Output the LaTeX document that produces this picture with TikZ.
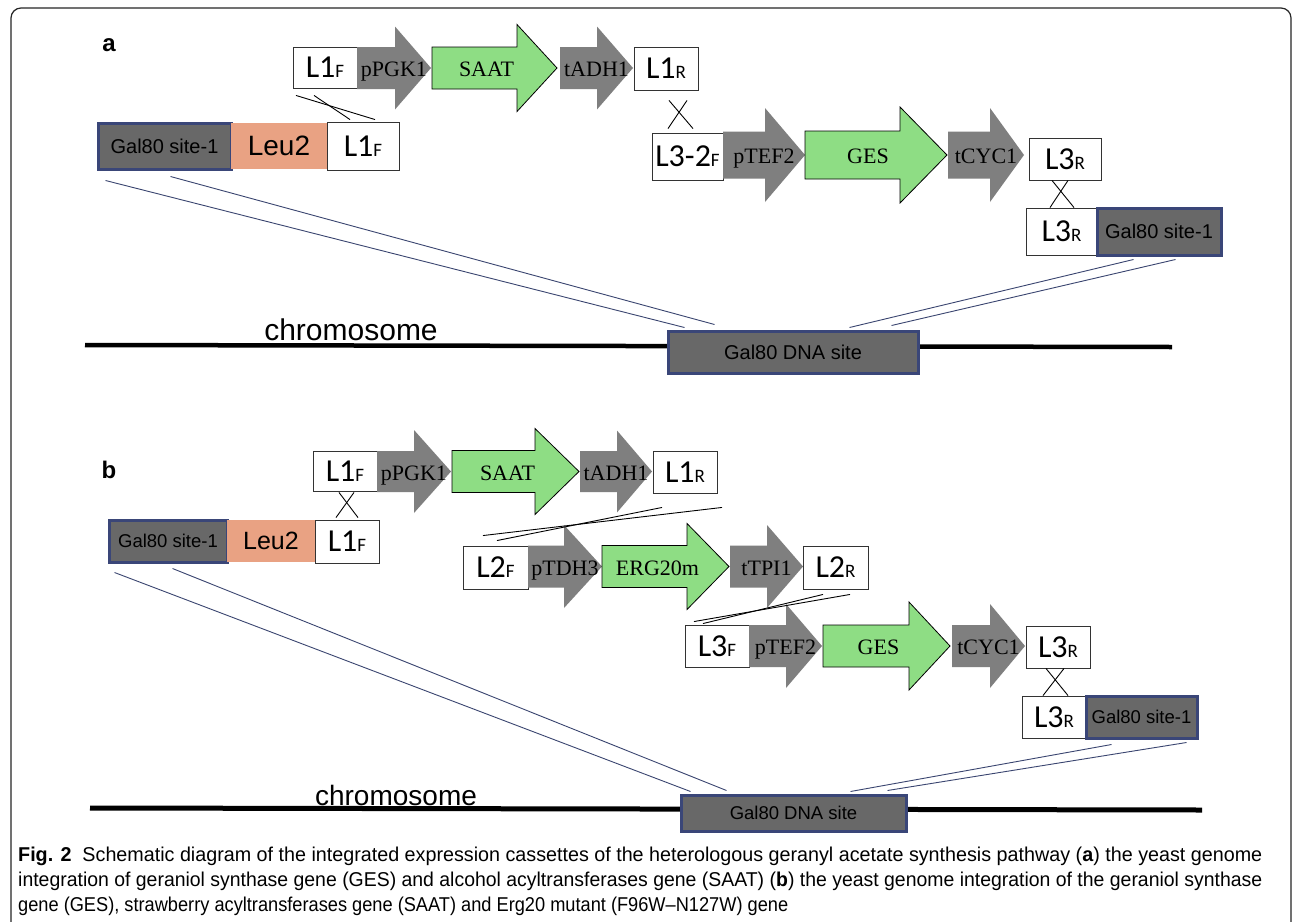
\documentclass[tikz,border=0pt]{standalone}
\usepackage{fontspec}
\usepackage{graphicx}
\setmainfont{Liberation Serif}
\setsansfont{Liberation Sans}
\newfontfamily\calib{Carlito}
\usetikzlibrary{calc}
\definecolor{arrgrey}{HTML}{7F7F7F}
\definecolor{genegreen}{HTML}{8EDD84}
\definecolor{galgrey}{HTML}{686868}
\definecolor{navyc}{HTML}{3A4678}
\definecolor{navyl}{HTML}{3A4570}
\definecolor{leuc}{HTML}{E9A283}
\newcommand\sz[1]{\fontsize{#1}{#1}\selectfont}
\newcommand\Lsub[1]{{\sz{19}#1}}
\newcommand\genearrow[9]{%
  \path[#2] (#3,#6-#7) -- (#4,#6-#7) -- (#4,#6-#8) -- (#5,#6) -- (#4,#6+#8) -- (#4,#6+#7) -- (#3,#6+#7) -- cycle;
  \node[arrlabel,#2lab] (#1) at ({(#3+#5)/2},#6+8.5) {#9};}
\tikzset{
  lbox/.style={draw=black!80, line width=0.9pt, fill=white, inner sep=0pt, font=\calib\sz{32}},
  galbox/.style={draw=navyc, line width=3pt, fill=galgrey, inner sep=0pt, font=\sffamily\sz{20}},
  leubox/.style={fill=leuc, inner sep=0pt, font=\sffamily\sz{28}},
  greyarr/.style={fill=arrgrey},
  greenarr/.style={fill=genegreen, draw=black, line width=0.8pt},
  arrlabel/.style={font=\sz{22}, inner sep=0pt, anchor=base},
  greyarrlab/.style={},
  greenarrlab/.style={xshift=-8pt},
  navyline/.style={draw=navyl, line width=0.9pt},
  xline/.style={draw=black, line width=0.9pt},
  chromline/.style={draw=black, line width=4.5pt},
  panellab/.style={font=\sffamily\bfseries\sz{24}, inner sep=0pt},
  chromlab/.style={font=\sffamily\sz{30}, inner sep=0pt},
  caption/.style={anchor=base west, inner sep=0pt, font=\sffamily\sz{20}}
}
\begin{document}
\begin{tikzpicture}[x=1pt,y=-1pt]
\useasboundingbox (0,0) rectangle (1293,921);
\clip (0,0) rectangle (1293,921);
\fill[white] (0,0) rectangle (1293,921);
\draw[line width=1.2pt, black!85, rounded corners=10pt] (11,960) -- (11,8) -- (1291,8) -- (1291,960);

% ================= panel a =================
\node[panellab] (pa) at (109,45) {a};
% row 1
\node[lbox, minimum width=64, minimum height=41] (L1Fa) at (325,67.5) {L1\Lsub{F}};
\genearrow{pPGKa}{greyarr}{357}{395}{431}{68}{21}{41.5}{pPGK1}
\genearrow{SAATa}{greenarr}{432}{517}{557}{68}{21}{43.5}{SAAT}
\genearrow{tADHa}{greyarr}{560}{597}{633}{68}{21}{41.5}{tADH1}
\node[lbox, minimum width=64, minimum height=43] (L1Ra) at (666,68.5) {L1\Lsub{R}};
% row 2
\node[galbox, minimum width=133, minimum height=46] (Gal80a1) at (164.5,146) {Gal80 site-1};
\node[leubox, minimum width=96, minimum height=46] (Leu2a) at (279,146) {Leu2};
\node[lbox, minimum width=72, minimum height=48] (L1Fa2) at (363,146) {L1\Lsub{F}};
% row 3
\node[lbox, minimum width=71, minimum height=47] (L32F) at (687.5,156.5) {L3-2\Lsub{F}};
\genearrow{pTEFa}{greyarr}{723}{765}{805}{155}{23.5}{47}{pTEF2}
\genearrow{GESa}{greenarr}{805}{900}{947}{155}{24}{48}{GES}
\genearrow{tCYCa}{greyarr}{948}{990}{1024}{155}{23.5}{47}{tCYC1}
\node[lbox, minimum width=72, minimum height=42] (L3Ra1) at (1065,159) {L3\Lsub{R}};
\node[lbox, minimum width=71, minimum height=47] (L3Ra2) at (1061.5,231.5) {L3\Lsub{R}};
\node[galbox, minimum width=124, minimum height=47] (Gal80a2) at (1159,231.5) {Gal80 site-1};
% crossings
\draw[xline] ($(L1Fa.south)+(-29,7)$) -- ($(L1Fa2.north)+(12,-2)$);
\draw[xline] ($(L1Fa.south)+(-11,7)$) -- ($(L1Fa2.north)+(-13,-2)$);
\draw[xline] ($(L1Ra.south)+(3,10)$) -- ($(L32F.north)+(5.5,-4)$);
\draw[xline] ($(L1Ra.south)+(21,10)$) -- ($(L32F.north)+(-19.5,-4)$);
\draw[xline] ($(L3Ra1.south)+(-13,0)$) -- ($(L3Ra2.north)+(12.5,0)$);
\draw[xline] ($(L3Ra1.south)+(3,0)$) -- ($(L3Ra2.north)+(-11.5,0)$);
% chromosome
\coordinate (chrA1) at (85,345);
\coordinate (chrA2) at (1172,347);
\draw[chromline] (chrA1) -- (chrA2);
\node[chromlab] (chromA) at (351,330) {chromosome};
\node[galbox, minimum width=250, minimum height=42] (DNAa) at (793,352) {Gal80 DNA site};
\draw[navyline] ($(Gal80a1.south west)+(9,10)$) -- ($(DNAa.north west)+(18,-2)$);
\draw[navyline] ($(Gal80a1.south west)+(74,6)$) -- ($(DNAa.north west)+(48,-5)$);
\draw[navyline] ($(Gal80a2.south east)+(-89,3)$) -- ($(DNAa.north west)+(183,-2)$);
\draw[navyline] ($(Gal80a2.south east)+(-47,3)$) -- ($(DNAa.north west)+(225,-4)$);

% ================= panel b =================
\node[panellab] (pb) at (109,470) {b};
% row 1
\node[lbox, minimum width=64, minimum height=40] (L1Fb) at (345,471) {L1\Lsub{F}};
\genearrow{pPGKb}{greyarr}{377}{414}{451}{471.5}{20.5}{41.5}{pPGK1}
\genearrow{SAATb}{greenarr}{452}{535}{579}{471.5}{21}{43}{SAAT}
\genearrow{tADHb}{greyarr}{580}{617}{652}{471.5}{20.5}{41}{tADH1}
\node[lbox, minimum width=64, minimum height=42] (L1Rb) at (685,472) {L1\Lsub{R}};
% row 2
\node[galbox, font=\sffamily\sz{18.5}, minimum width=118, minimum height=42] (Gal80b1) at (168,541) {Gal80 site-1};
\node[leubox, font=\sffamily\sz{25}, minimum width=88, minimum height=42] (Leu2b) at (271,541) {Leu2};
\node[lbox, minimum width=64, minimum height=43] (L1Fb2) at (347,541.5) {L1\Lsub{F}};
% row 3
\node[lbox, minimum width=65, minimum height=43] (L2F) at (495.5,567.5) {L2\Lsub{F}};
\genearrow{pTDHb}{greyarr}{528}{564}{602}{566.5}{21}{41.5}{pTDH3}
\genearrow{ERGb}{greenarr}{602}{687}{729}{566.5}{21}{43}{ERG20m}
\genearrow{tTPIb}{greyarr}{730}{767}{803}{566.5}{21}{41.5}{tTPI1}
\node[lbox, minimum width=65, minimum height=43] (L2R) at (835.5,567.5) {L2\Lsub{R}};
% row 4
\node[lbox, minimum width=64, minimum height=42] (L3F) at (717,646) {L3\Lsub{F}};
\genearrow{pTEFb}{greyarr}{749}{786}{822}{646}{21}{42}{pTEF2}
\genearrow{GESb}{greenarr}{823}{909}{950}{646}{21}{44}{GES}
\genearrow{tCYCb}{greyarr}{952}{990}{1025}{646}{21}{42}{tCYC1}
\node[lbox, minimum width=64, minimum height=42] (L3Rb1) at (1058,647) {L3\Lsub{R}};
\node[lbox, minimum width=64, minimum height=42] (L3Rb2) at (1054,717) {L3\Lsub{R}};
\node[galbox, font=\sffamily\sz{18.5}, minimum width=111, minimum height=42] (Gal80b2) at (1141.5,717) {Gal80 site-1};
% crossings
\draw[xline] ($(L1Fb.south)+(9,1)$) -- ($(L1Fb2.north)+(-11,-2)$);
\draw[xline] ($(L1Fb.south)+(-6,1)$) -- ($(L1Fb2.north)+(11,-2)$);
\draw[xline] ($(L1Rb.south)+(37,14)$) -- ($(L2F.north)+(-12.5,-10)$);
\draw[xline] ($(L1Rb.south)+(-23,14)$) -- ($(L2F.north)+(1.5,-5)$);
\draw[xline] ($(L2R.south)+(14.5,5)$) -- ($(L3F.north)+(-23,-3)$);
\draw[xline] ($(L2R.south)+(-12.5,5)$) -- ($(L3F.north)+(-14,-1)$);
\draw[xline] ($(L3Rb1.south)+(-12,0)$) -- ($(L3Rb2.north)+(14,0)$);
\draw[xline] ($(L3Rb1.south)+(6,0)$) -- ($(L3Rb2.north)+(-11,0)$);
% chromosome
\coordinate (chrB1) at (90,808);
\coordinate (chrB2) at (1202,810);
\draw[chromline, line width=5pt] (chrB1) -- (chrB2);
\node[chromlab, font=\sffamily\sz{28}] (chromB) at (396,795) {chromosome};
\node[galbox, font=\sffamily\sz{18.5}, minimum width=225, minimum height=36] (DNAb) at (793.5,813) {Gal80 DNA site};
\draw[navyline] ($(Gal80b1.south west)+(7,9)$) -- ($(DNAb.north west)+(11,-2)$);
\draw[navyline] ($(Gal80b1.south west)+(65,5)$) -- ($(DNAb.north west)+(47,-3)$);
\draw[navyline] ($(Gal80b2.south east)+(-87,5)$) -- ($(DNAb.north west)+(171,-2)$);
\draw[navyline] ($(Gal80b2.south east)+(-12,3)$) -- ($(DNAb.north west)+(208,-3)$);

% ================= caption =================
\node[caption] (cap1) at (18,861) {\resizebox{1244pt}{\height}{\textbf{Fig. 2}\ \ Schematic diagram of the integrated expression cassettes of the heterologous geranyl acetate synthesis pathway (\textbf{a}) the yeast genome}};
\node[caption] (cap2) at (18,886) {\resizebox{1244pt}{\height}{integration of geraniol synthase gene (GES) and alcohol acyltransferases gene (SAAT) (\textbf{b}) the yeast genome integration of the geraniol synthase}};
\node[caption] (cap3) at (18,911) {\resizebox{770pt}{\height}{gene (GES), strawberry acyltransferases gene (SAAT) and Erg20 mutant (F96W–N127W) gene}};
\end{tikzpicture}
\end{document}
